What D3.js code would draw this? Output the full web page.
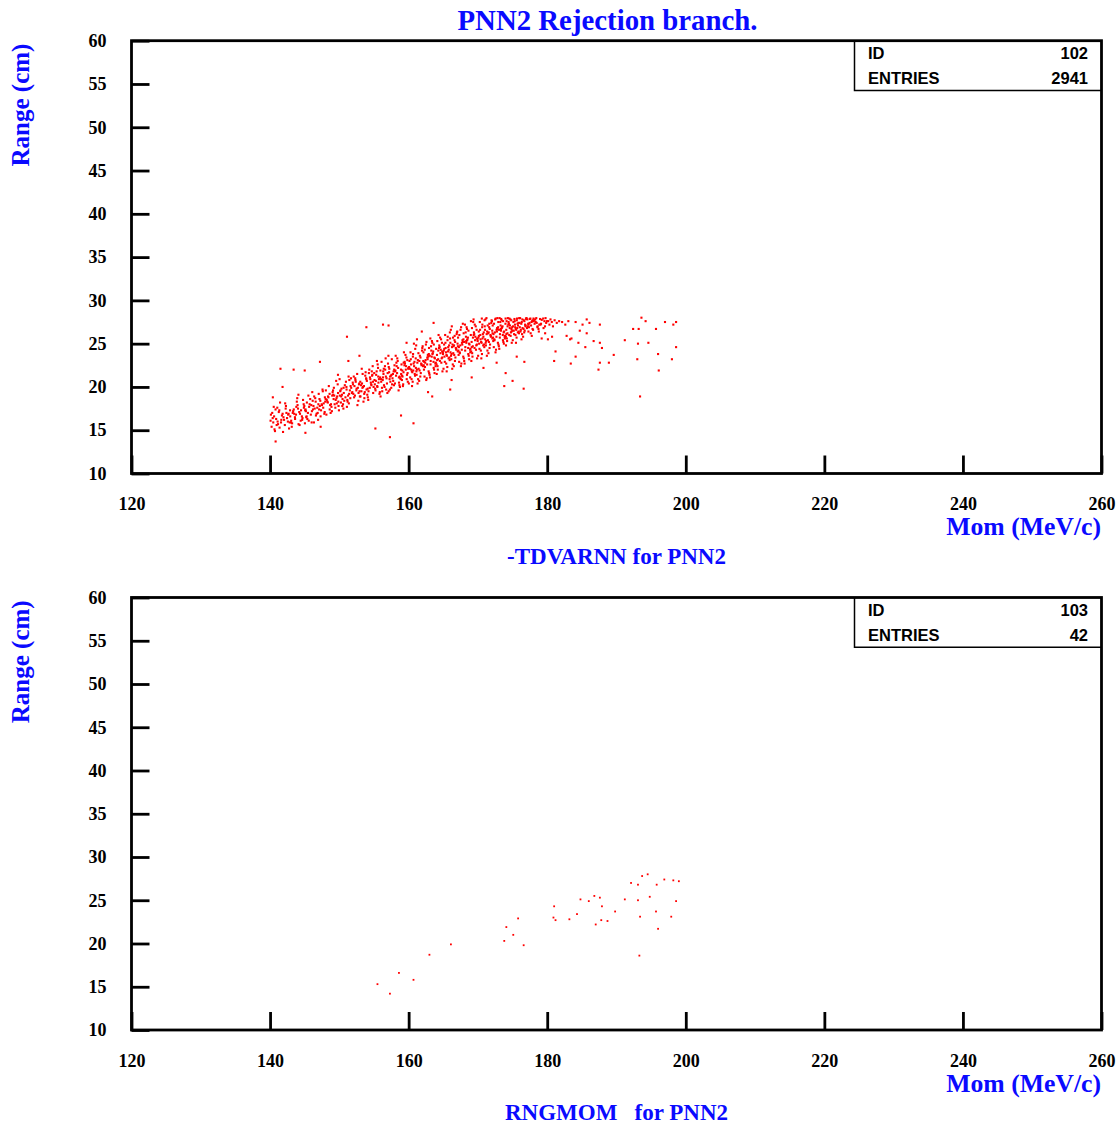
<!DOCTYPE html>
<html>
<head>
<meta charset="utf-8">
<script src="https://cdn.jsdelivr.net/npm/d3@7/dist/d3.min.js"></script>
<style>
  html, body { margin: 0; padding: 0; background: #fff; }
  svg { display: block; }
</style>
</head>
<body>
<svg id="chart" width="1118" height="1126"></svg>
<script>
// ---------------- data ----------------
const titleText = "PNN2 Rejection branch.";
const momTicks = [120, 140, 160, 180, 200, 220, 240, 260];
const rangeTicks = [10, 15, 20, 25, 30, 35, 40, 45, 50, 55, 60];
const momDomain = [120, 260];
const rangeDomain = [10, 60];

const topSubtitle = "-TDVARNN for PNN2";
const bottomSubtitle = "RNGMOM   for PNN2";
const statLabels = ["ID", "ENTRIES"];
const topStats = ["102", "2941"];
const bottomStats = ["103", "42"];

// Top histogram (ID 102): [momentum MeV/c, range cm]
const topPoints = [
[140.07,16.1],[140.22,15.4],[140.31,17.0],[140.46,15.9],[140.58,16.6],[140.64,15.1],[140.79,17.4],[140.88,16.3],[140.12,16.8],[140.53,17.7],[140.95,15.6],[140.38,16.4],[140.71,14.9],
[141.81,16.9],[141.15,15.7],[141.62,16.2],[141.04,17.6],[141.37,15.3],[141.93,16.5],[141.26,17.1],[141.58,15.9],[141.71,16.7],[141.44,18.2],[141.09,16.0],[141.87,14.8],[141.33,17.3],
[142.45,16.4],[142.88,17.3],[142.13,15.6],[142.67,16.9],[142.29,17.8],[142.02,16.2],[142.74,15.2],[142.36,17.0],[142.91,16.6],[142.18,18.1],[142.57,16.0],[142.25,17.5],[142.83,15.9],[142.61,16.8],
[143.33,17.2],[143.61,16.3],[143.97,17.9],[143.18,15.8],[143.74,16.8],[143.42,17.4],[143.05,16.1],[143.86,18.3],[143.27,17.0],[143.59,16.5],[143.13,15.4],[143.79,17.7],[143.48,16.9],[143.02,15.9],[143.92,18.7],
[144.59,16.6],[144.03,17.5],[144.42,16.1],[144.85,18.0],[144.21,17.1],[144.68,16.4],[144.94,17.8],[144.11,15.7],[144.47,17.3],[144.76,18.5],[144.32,16.9],[144.09,19.1],[144.63,16.2],[144.88,17.6],[144.26,15.6],
[145.07,17.3],[145.22,16.5],[145.31,18.2],[145.46,17.0],[145.58,16.1],[145.64,17.7],[145.79,18.6],[145.88,16.8],[145.12,17.4],[145.53,19.0],[145.95,17.9],[145.38,16.3],[145.71,18.0],[145.03,15.8],[145.17,17.2],[145.27,16.6],
[146.81,17.6],[146.15,18.4],[146.62,16.7],[146.04,17.2],[146.37,18.9],[146.93,16.2],[146.26,17.8],[146.58,18.3],[146.71,16.9],[146.44,17.5],[146.09,19.4],[146.87,17.0],[146.33,15.9],[146.52,18.7],[146.19,17.4],[146.97,18.0],
[147.45,18.0],[147.88,17.1],[147.13,18.6],[147.67,17.6],[147.29,16.6],[147.02,19.2],[147.74,18.1],[147.36,17.3],[147.91,18.8],[147.18,17.8],[147.57,19.7],[147.25,18.4],[147.83,16.9],[147.61,19.5],[147.08,17.4],[147.49,17.9],[147.96,18.3],
[148.33,18.2],[148.61,17.4],[148.97,19.0],[148.18,18.5],[148.74,17.0],[148.42,18.8],[148.05,19.6],[148.86,17.7],[148.27,18.3],[148.59,19.2],[148.13,16.8],[148.79,18.0],[148.48,20.1],[148.02,18.6],[148.92,17.2],[148.36,18.9],[148.67,17.9],
[149.59,18.7],[149.03,19.4],[149.42,17.6],[149.85,18.3],[149.21,19.9],[149.68,18.9],[149.94,17.3],[149.11,19.1],[149.47,18.5],[149.76,20.3],[149.32,18.0],[149.09,19.6],[149.63,18.1],[149.88,17.8],[149.26,19.0],[149.54,20.7],[149.17,18.6],[149.81,19.3],
[150.07,19.0],[150.22,18.2],[150.31,19.8],[150.46,18.6],[150.58,17.5],[150.64,19.3],[150.79,20.2],[150.88,18.8],[150.12,19.5],[150.53,18.0],[150.95,20.6],[150.38,19.1],[150.71,18.4],[150.03,20.9],[150.17,19.6],[150.27,18.9],[150.42,17.8],[150.61,19.9],
[151.81,19.3],[151.15,18.5],[151.62,20.1],[151.04,19.7],[151.37,18.1],[151.93,20.5],[151.26,19.0],[151.58,18.7],[151.71,19.9],[151.44,20.8],[151.09,17.7],[151.87,19.4],[151.33,21.2],[151.52,19.6],[151.19,18.3],[151.97,20.3],[151.68,21.0],[151.41,19.2],[151.02,20.0],
[152.45,19.6],[152.88,20.4],[152.13,18.8],[152.67,19.9],[152.29,21.0],[152.02,19.2],[152.74,18.4],[152.36,20.6],[152.91,19.5],[152.18,20.1],[152.57,21.5],[152.25,19.0],[152.83,20.3],[152.61,17.9],[152.08,21.2],[152.49,19.8],[152.96,18.9],[152.32,20.8],[152.77,19.3],
[153.33,19.9],[153.61,18.7],[153.97,20.7],[153.18,19.5],[153.74,21.3],[153.42,20.0],[153.05,18.9],[153.86,21.0],[153.27,20.4],[153.59,19.2],[153.13,20.2],[153.79,21.7],[153.48,18.3],[153.02,20.6],[153.92,19.7],[153.36,21.5],[153.67,19.4],[153.23,22.1],[153.55,20.1],[153.89,20.9],
[154.59,20.3],[154.03,19.1],[154.42,21.1],[154.85,20.6],[154.21,19.5],[154.68,21.8],[154.94,20.0],[154.11,18.8],[154.47,20.9],[154.76,21.4],[154.32,22.0],[154.09,19.8],[154.63,20.2],[154.88,19.3],[154.26,21.6],[154.54,20.5],[154.17,18.5],[154.81,22.4],[154.39,19.9],[154.72,21.3],
[155.07,20.8],[155.22,19.6],[155.31,21.4],[155.46,20.1],[155.58,22.2],[155.64,20.5],[155.79,19.2],[155.88,21.1],[155.12,20.3],[155.53,22.6],[155.95,18.9],[155.38,21.8],[155.71,20.9],[155.03,21.6],[155.17,19.8],[155.27,20.7],[155.42,23.0],[155.61,21.2],[155.84,19.4],[155.92,21.9],[155.49,20.0],
[156.81,21.0],[156.15,19.9],[156.62,22.0],[156.04,20.6],[156.37,21.5],[156.93,19.3],[156.26,20.8],[156.58,22.4],[156.71,21.2],[156.44,20.2],[156.09,22.9],[156.87,20.4],[156.33,21.8],[156.52,20.0],[156.19,19.5],[156.97,21.6],[156.68,23.3],[156.41,22.1],[156.02,20.9],[156.75,19.7],[156.29,21.1],
[157.45,21.3],[157.88,20.2],[157.13,22.3],[157.67,21.0],[157.29,19.7],[157.02,22.7],[157.74,21.5],[157.36,20.6],[157.91,22.0],[157.18,21.7],[157.57,23.2],[157.25,20.9],[157.83,21.8],[157.61,20.3],[157.08,23.6],[157.49,19.9],[157.96,22.5],[157.32,21.2],[157.77,20.7],[157.21,22.1],[157.54,21.4],[157.11,19.5],
[158.33,21.6],[158.61,20.5],[158.97,22.6],[158.18,21.3],[158.74,20.0],[158.42,23.0],[158.05,21.8],[158.86,20.9],[158.27,22.4],[158.59,21.1],[158.13,23.6],[158.79,21.0],[158.48,22.2],[158.02,20.4],[158.92,21.5],[158.36,23.3],[158.67,20.2],[158.23,22.8],[158.55,19.6],[158.89,22.0],[158.08,21.9],[158.71,21.2],
[159.59,22.0],[159.03,20.8],[159.42,22.9],[159.85,21.6],[159.21,20.3],[159.68,23.4],[159.94,22.1],[159.11,21.2],[159.47,22.7],[159.76,21.4],[159.32,24.0],[159.09,21.9],[159.63,22.4],[159.88,20.6],[159.26,21.7],[159.54,23.7],[159.17,20.1],[159.81,23.1],[159.39,22.5],[159.72,20.9],[159.05,21.3],[159.96,22.2],[159.28,22.8],
[160.07,22.3],[160.22,21.1],[160.31,23.2],[160.46,21.8],[160.58,20.6],[160.64,23.8],[160.79,22.4],[160.88,21.5],[160.12,23.0],[160.53,21.7],[160.95,24.4],[160.38,22.0],[160.71,22.7],[160.03,20.4],[160.17,22.1],[160.27,24.0],[160.42,20.9],[160.61,23.5],[160.84,22.9],[160.92,21.3],[160.49,20.1],[160.67,21.9],[160.34,22.6],[160.76,25.0],
[161.81,22.7],[161.15,21.4],[161.62,23.6],[161.04,22.2],[161.37,20.9],[161.93,24.2],[161.26,22.8],[161.58,21.9],[161.71,23.4],[161.44,22.1],[161.09,24.8],[161.87,22.5],[161.33,23.1],[161.52,20.7],[161.19,22.0],[161.97,24.5],[161.68,21.2],[161.41,23.9],[161.02,23.3],[161.75,21.6],[161.29,20.4],[161.86,22.6],[161.55,23.0],[161.12,21.8],
[162.45,23.1],[162.88,21.8],[162.13,24.0],[162.67,22.6],[162.29,21.2],[162.02,24.7],[162.74,23.2],[162.36,22.3],[162.91,23.8],[162.18,22.5],[162.57,25.2],[162.25,22.9],[162.83,23.5],[162.61,21.0],[162.08,22.4],[162.49,24.9],[162.96,21.6],[162.32,24.3],[162.77,23.7],[162.21,22.0],[162.54,20.8],[162.11,23.0],[162.69,23.4],[162.39,22.8],[162.94,24.5],
[163.33,23.5],[163.61,22.2],[163.97,24.4],[163.18,23.0],[163.74,21.6],[163.42,25.1],[163.05,23.6],[163.86,22.7],[163.27,24.2],[163.59,22.9],[163.13,25.6],[163.79,23.3],[163.48,23.9],[163.02,21.4],[163.92,22.8],[163.36,25.3],[163.67,22.0],[163.23,24.7],[163.55,24.1],[163.89,22.4],[163.08,21.1],[163.71,23.4],[163.44,23.8],[163.16,22.6],[163.63,24.9],
[164.59,23.9],[164.03,22.6],[164.42,24.8],[164.85,23.4],[164.21,22.0],[164.68,25.5],[164.94,24.0],[164.11,23.1],[164.47,24.6],[164.76,23.3],[164.32,26.0],[164.09,23.7],[164.63,24.3],[164.88,21.8],[164.26,23.2],[164.54,25.7],[164.17,22.4],[164.81,25.1],[164.39,24.5],[164.72,22.8],[164.05,21.5],[164.96,23.8],[164.28,24.2],[164.51,23.0],[164.14,25.3],[164.84,24.1],
[165.07,24.2],[165.22,22.9],[165.31,25.1],[165.46,23.7],[165.58,22.3],[165.64,25.8],[165.79,24.3],[165.88,23.4],[165.12,24.9],[165.53,23.6],[165.95,26.3],[165.38,24.0],[165.71,24.6],[165.03,22.1],[165.17,23.5],[165.27,26.0],[165.42,22.7],[165.61,25.4],[165.84,24.8],[165.92,23.1],[165.49,21.8],[165.67,24.1],[165.34,24.5],[165.76,23.3],[165.98,25.6],[165.14,24.4],
[166.81,24.5],[166.15,23.2],[166.62,25.4],[166.04,24.0],[166.37,22.6],[166.93,26.1],[166.26,24.6],[166.58,23.7],[166.71,25.2],[166.44,23.9],[166.09,26.6],[166.87,24.3],[166.33,24.9],[166.52,22.4],[166.19,23.8],[166.97,26.3],[166.68,23.0],[166.41,25.7],[166.02,25.1],[166.75,23.4],[166.29,22.1],[166.86,24.4],[166.55,24.8],[166.12,23.6],[166.64,25.9],[166.47,24.7],[166.23,27.0],
[167.45,24.8],[167.88,23.5],[167.13,25.7],[167.67,24.3],[167.29,22.9],[167.02,26.4],[167.74,24.9],[167.36,24.0],[167.91,25.5],[167.18,24.2],[167.57,26.9],[167.25,24.6],[167.83,25.2],[167.61,22.7],[167.08,24.1],[167.49,26.6],[167.96,23.3],[167.32,26.0],[167.77,25.4],[167.21,23.7],[167.54,22.4],[167.11,24.7],[167.69,25.1],[167.39,23.9],[167.94,26.2],[167.06,25.0],[167.82,27.3],
[168.33,25.1],[168.61,23.8],[168.97,26.0],[168.18,24.6],[168.74,23.2],[168.42,26.7],[168.05,25.2],[168.86,24.3],[168.27,25.8],[168.59,24.5],[168.13,27.2],[168.79,24.9],[168.48,25.5],[168.02,23.0],[168.92,24.4],[168.36,26.9],[168.67,23.6],[168.23,26.3],[168.55,25.7],[168.89,24.0],[168.08,22.7],[168.71,25.0],[168.44,25.4],[168.16,24.2],[168.63,26.5],[168.31,25.3],[168.99,27.6],
[169.59,25.4],[169.03,24.1],[169.42,26.3],[169.85,24.9],[169.21,23.5],[169.68,27.0],[169.94,25.5],[169.11,24.6],[169.47,26.1],[169.76,24.8],[169.32,27.5],[169.09,25.2],[169.63,25.8],[169.88,23.3],[169.26,24.7],[169.54,27.2],[169.17,23.9],[169.81,26.6],[169.39,26.0],[169.72,24.3],[169.05,23.0],[169.96,25.3],[169.28,25.7],[169.51,24.5],[169.14,26.8],[169.84,25.6],[169.37,27.8],
[170.07,25.7],[170.22,24.4],[170.31,26.6],[170.46,25.2],[170.58,23.8],[170.64,27.2],[170.79,25.8],[170.88,24.9],[170.12,26.4],[170.53,25.1],[170.95,27.7],[170.38,25.5],[170.71,26.1],[170.03,23.6],[170.17,25.0],[170.27,27.5],[170.42,24.2],[170.61,26.9],[170.84,26.3],[170.92,24.6],[170.49,23.3],[170.67,25.6],[170.34,26.0],[170.76,24.8],[170.98,27.0],[170.14,25.9],[170.56,27.9],
[171.81,26.0],[171.15,24.8],[171.62,26.9],[171.04,25.5],[171.37,24.2],[171.93,27.4],[171.26,26.1],[171.58,25.2],[171.71,26.7],[171.44,25.4],[171.09,27.8],[171.87,25.8],[171.33,26.4],[171.52,23.9],[171.19,25.3],[171.97,27.7],[171.68,24.5],[171.41,27.1],[171.02,26.6],[171.75,24.9],[171.29,23.6],[171.86,25.9],[171.55,26.3],[171.12,25.1],[171.64,27.3],[171.47,26.2],[171.23,27.95],
[172.45,26.3],[172.88,25.1],[172.13,27.1],[172.67,25.8],[172.29,24.6],[172.02,27.6],[172.74,26.4],[172.36,25.5],[172.91,26.9],[172.18,25.7],[172.57,27.9],[172.25,26.1],[172.83,26.7],[172.61,24.3],[172.08,25.6],[172.49,27.8],[172.96,24.9],[172.32,27.3],[172.77,26.8],[172.21,25.3],[172.54,24.0],[172.11,26.2],[172.69,26.6],[172.39,25.4],[172.94,27.5],[172.06,26.5],[172.82,27.95],
[173.33,26.5],[173.61,25.4],[173.97,27.3],[173.18,26.1],[173.74,25.0],[173.42,27.7],[173.05,26.6],[173.86,25.8],[173.27,27.1],[173.59,26.0],[173.13,27.95],[173.79,26.4],[173.48,26.9],[173.02,24.7],[173.92,25.9],[173.36,27.85],[173.67,25.2],[173.23,27.5],[173.55,27.0],[173.89,25.6],[173.08,24.4],[173.71,26.3],[173.44,26.8],[173.16,25.7],[173.63,27.6],[173.31,26.7],[173.99,27.9],
[174.59,26.8],[174.03,25.8],[174.42,27.5],[174.85,26.4],[174.21,25.3],[174.68,27.8],[174.94,26.9],[174.11,26.1],[174.47,27.3],[174.76,26.3],[174.32,27.95],[174.09,26.6],[174.63,27.1],[174.88,25.1],[174.26,26.2],[174.54,27.9],[174.17,25.6],[174.81,27.7],[174.39,27.2],[174.72,25.9],[174.05,24.8],[174.96,26.5],[174.28,27.0],[174.51,26.0],[174.14,27.6],[174.84,26.7],
[175.07,27.0],[175.22,26.1],[175.31,27.6],[175.46,26.7],[175.58,25.7],[175.64,27.9],[175.79,27.1],[175.88,26.4],[175.12,27.5],[175.53,26.6],[175.95,27.95],[175.38,26.9],[175.71,27.3],[175.03,25.4],[175.17,26.5],[175.27,27.85],[175.42,26.0],[175.61,27.7],[175.84,27.4],[175.92,26.2],[175.49,25.1],[175.67,26.8],[175.34,27.2],[175.76,26.3],
[176.81,27.2],[176.15,26.4],[176.62,27.7],[176.04,26.9],[176.37,26.1],[176.93,27.9],[176.26,27.3],[176.58,26.7],[176.71,27.6],[176.44,26.8],[176.09,27.95],[176.87,27.1],[176.33,27.5],[176.52,25.8],[176.19,26.6],[176.97,27.85],[176.68,26.3],[176.41,27.8],[176.02,27.4],[176.75,26.5],[176.29,25.5],[176.86,27.0],
[177.45,27.4],[177.88,26.7],[177.13,27.8],[177.67,27.1],[177.29,26.4],[177.02,27.95],[177.74,27.5],[177.36,26.9],[177.91,27.7],[177.18,27.0],[177.57,27.9],[177.25,27.3],[177.83,27.6],[177.61,26.2],[177.08,26.8],[177.49,27.85],[177.96,26.6],[177.32,27.2],[177.77,25.9],
[178.33,27.5],[178.61,27.0],[178.97,27.85],[178.18,27.3],[178.74,26.7],[178.42,27.95],[178.05,27.6],[178.86,27.2],[178.27,27.8],[178.59,26.9],[178.13,27.7],[178.79,26.4],[178.48,27.4],[178.02,27.9],
[179.59,27.6],[179.03,27.2],[179.42,27.9],[179.85,27.4],[179.21,27.75],[179.68,27.0],[179.94,27.6],[179.11,27.3],[179.47,26.8],[179.76,27.95],
[180.14,27.6],[180.32,27.2],[180.47,27.8],[180.66,27.5],[180.83,27.0],[181.07,27.7],[181.38,27.4],[181.72,27.6],[182.15,27.5],[182.61,27.2],[183.05,27.6],
// sparse points outside the band
[186.1,27.4],[187.6,27.2],[185.7,27.8],[184.1,27.5],[185.1,27.2],[184.7,26.5],[185.7,26.2],[182.8,25.9],[183.5,25.6],[183.3,25.5],
[184.5,25.1],[186.7,25.3],[187.6,25.1],[185.5,24.6],[187.9,24.5],[189.6,23.7],[191.2,25.4],[192.4,26.7],[193.2,26.7],[193.6,28.0],
[194.2,27.6],[195.7,26.7],[197.0,27.5],[198.2,27.2],[198.6,27.5],[193.1,25.0],[194.6,25.1],[198.6,24.6],[196.0,23.8],[193.0,23.2],
[198.0,23.2],[196.1,21.9],[193.4,18.9],[187.6,22.8],[188.9,22.8],[187.4,22.0],[184.1,23.5],[183.4,22.7],[181.2,24.1],[181.0,23.0],
[180.7,25.8],[180.1,25.5],[179.7,26.2],[179.2,25.6],
[170.8,22.2],[174.0,21.6],[173.8,20.1],[175.0,20.7],[176.6,19.8],[166.2,20.8],[163.4,18.9],[166.0,19.7],[162.8,19.4],[169.1,21.1],
[172.7,22.8],[175.6,23.5],[176.7,22.9],[163.6,27.4],[161.9,26.4],[159.7,25.1],[161.2,25.5],
[153.9,26.9],[156.3,27.2],[157.1,27.1],[151.1,25.8],[141.5,22.1],[143.4,22.0],[140.8,13.7],[145.1,14.7],[155.2,15.2],[157.3,14.2],
[158.9,16.7],[147.2,22.9],[145.0,21.9],[152.9,23.6],[151.3,23.0],[149.8,21.4],[140.4,18.8],[141.8,20.0],[147.3,15.4],[146.0,15.9],[160.7,15.8]
];

// Bottom histogram (ID 103): 42 entries
const bottomPoints = [
[175.8,22.9],[174.1,21.9],[175.1,21.0],[173.8,20.3],[176.6,19.8],[166.1,19.9],[163.0,18.7],[158.6,16.6],[160.7,15.8],[155.5,15.3],
[157.3,14.2],[181.0,24.3],[180.9,23.0],[181.2,22.7],[184.3,23.4],[183.2,22.8],[184.8,25.1],[186.0,24.9],[186.8,25.5],[187.6,25.3],
[187.9,24.3],[187.8,22.7],[187.0,22.2],[188.7,22.6],[189.8,23.7],[191.2,25.1],[192.1,27.0],[193.1,26.8],[193.7,27.8],[194.5,28.0],
[193.1,25.0],[194.8,25.4],[195.8,26.8],[196.9,27.4],[198.2,27.3],[199.0,27.2],[198.6,24.9],[195.7,23.7],[193.4,23.1],[197.9,23.1],
[196.0,21.7],[193.3,18.6]
];

// ---------------- drawing ----------------
const svg = d3.select("#chart");
const BLUE = "#0a0aff";
const SERIF = "'Liberation Serif','Times New Roman',Times,serif";
const SANS = "'Liberation Sans',Arial,Helvetica,sans-serif";

const left = 131.5, right = 1101.5;
const x = d3.scaleLinear().domain(momDomain).range([left, right]);

svg.append("text")
  .attr("x", 607.5).attr("y", 30)
  .attr("text-anchor", "middle")
  .attr("font-family", SERIF).attr("font-weight", "bold")
  .attr("font-size", 28.8).attr("fill", BLUE)
  .text(titleText);

function panel(top, bottom, points, stats, subtitle, subY, dot) {
  const dy = top - 40.7;
  const y = d3.scaleLinear().domain(rangeDomain).range([bottom, top]);
  const g = svg.append("g");

  // points
  g.append("g").selectAll("rect").data(points).join("rect")
    .attr("x", d => x(d[0]) - dot / 2)
    .attr("y", d => y(d[1]) - dot / 2)
    .attr("width", dot).attr("height", dot)
    .attr("fill", "#ff0000");

  // frame
  g.append("rect")
    .attr("x", left).attr("y", top)
    .attr("width", right - left).attr("height", bottom - top)
    .attr("fill", "none").attr("stroke", "#000").attr("stroke-width", 2.8);

  // y axis
  const ya = g.append("g").attr("transform", `translate(${left},0)`)
    .call(d3.axisLeft(y).tickValues(rangeTicks).tickSize(-18).tickPadding(25).tickFormat(d3.format("d")));
  ya.select(".domain").remove();
  ya.selectAll(".tick line").attr("stroke", "#000").attr("stroke-width", 2.8);
  ya.selectAll(".tick text")
    .attr("font-family", SERIF).attr("font-weight", "bold")
    .attr("font-size", 18).attr("fill", "#000");

  // x axis
  const xa = g.append("g").attr("transform", `translate(0,${bottom})`)
    .call(d3.axisBottom(x).tickValues(momTicks).tickSize(-18).tickPadding(24).tickFormat(d3.format("d")));
  xa.select(".domain").remove();
  xa.selectAll(".tick line").attr("stroke", "#000").attr("stroke-width", 2.8);
  xa.selectAll(".tick text")
    .attr("font-family", SERIF).attr("font-weight", "bold")
    .attr("font-size", 18).attr("fill", "#000");

  // axis titles
  g.append("text")
    .attr("x", 1101).attr("y", 535 + dy)
    .attr("text-anchor", "end")
    .attr("font-family", SERIF).attr("font-weight", "bold")
    .attr("font-size", 25.7).attr("fill", BLUE)
    .text("Mom (MeV/c)");
  g.append("text")
    .attr("transform", `translate(29,${105 + dy}) rotate(-90)`)
    .attr("text-anchor", "middle")
    .attr("font-family", SERIF).attr("font-weight", "bold")
    .attr("font-size", 25).attr("fill", BLUE)
    .text("Range (cm)");

  // subtitle
  g.append("text")
    .attr("x", 616.5).attr("y", subY)
    .attr("text-anchor", "middle")
    .attr("font-family", SERIF).attr("font-weight", "bold")
    .attr("font-size", 23).attr("fill", BLUE)
    .style("white-space", "pre")
    .text(subtitle);

  // stats box
  const bx = 854.5, bb = 90.5 + dy;
  g.append("path")
    .attr("d", `M${bx},${top}V${bb}H${right}`)
    .attr("fill", "none").attr("stroke", "#000").attr("stroke-width", 1.5);
  const rowsY = [59.3 + dy, 84.3 + dy];
  statLabels.forEach((lab, i) => {
    g.append("text").attr("x", 868).attr("y", rowsY[i])
      .attr("font-family", SANS).attr("font-weight", "bold")
      .attr("font-size", 16.5).attr("fill", "#000").text(lab);
    g.append("text").attr("x", 1088).attr("y", rowsY[i])
      .attr("text-anchor", "end")
      .attr("font-family", SANS).attr("font-weight", "bold")
      .attr("font-size", 16.5).attr("fill", "#000").text(stats[i]);
  });
}

panel(40.7, 473.5, topPoints, topStats, topSubtitle, 564, 2.1);
panel(597.5, 1030, bottomPoints, bottomStats, bottomSubtitle, 1120, 1.8);
</script>
</body>
</html>
